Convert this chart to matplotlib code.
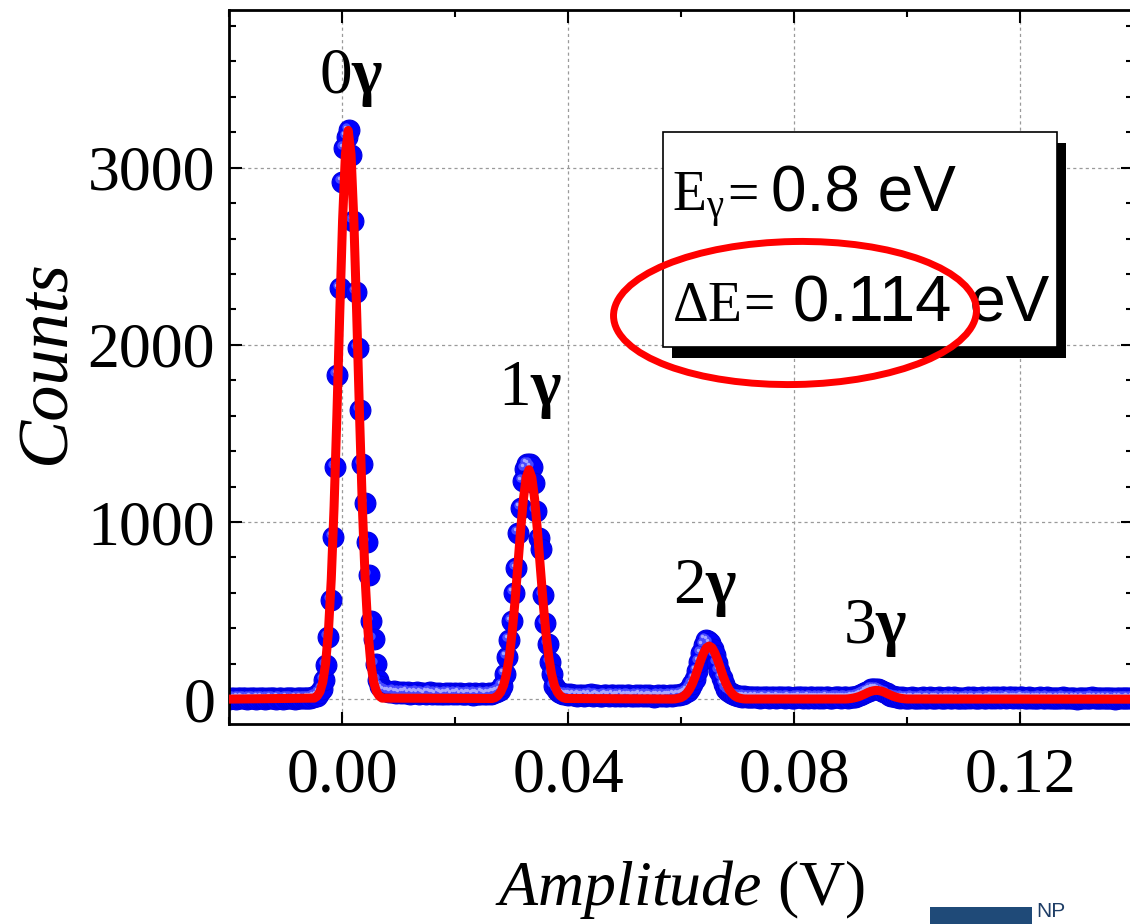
import numpy as np
import matplotlib
matplotlib.use("Agg")
import matplotlib.pyplot as plt
from matplotlib.patches import Rectangle, Ellipse
from matplotlib.ticker import MultipleLocator, FormatStrFormatter
from matplotlib.transforms import IdentityTransform, offset_copy

# ---------------------------------------------------------------------------
# Pulse-height spectrum: counts per amplitude bin (bin width 0.4 mV,
# first bin centred at -20.4 mV)
# ---------------------------------------------------------------------------
bin_start = -0.0204
bin_width = 0.0004

counts_pre0 = [6, 3, 8, 5, 2, 7, 4, 9, 5, 3, 6, 8, 4, 2, 7, 5, 9, 3, 6, 4,
               8, 5, 3, 7, 6, 2, 5, 9, 4, 6, 3, 8, 5, 7, 4, 6, 9, 8, 12, 16]
counts_peak0 = [20, 35, 60, 110, 195, 352, 561, 917, 1310, 1830, 2320, 2920,
                3109, 3174, 3212, 3070, 2700, 2300, 1980, 1630, 1330, 1110,
                890, 700, 440, 340, 200, 110, 75, 60, 50, 45]
counts_valley01 = [42, 38, 45, 36, 40, 33, 38, 35, 41, 30, 36, 34, 39, 31, 37,
                   33, 28, 35, 38, 30, 34, 29, 36, 32, 27, 34, 31, 36, 28, 33,
                   30, 35, 27, 32, 29, 34, 31, 26, 33, 30, 28, 35, 31, 29, 34,
                   32, 36, 40, 45]
counts_peak1 = [50, 75, 145, 240, 335, 440, 600, 740, 940, 1080, 1230, 1300,
                1330, 1325, 1310, 1220, 1060, 910, 850, 590, 430, 310, 210,
                145, 75, 50, 40]
counts_valley12 = [35, 30, 27, 24, 28, 22, 25, 20, 26, 23, 19, 24, 21, 27, 18,
                   22, 25, 20, 17, 23, 26, 19, 21, 24, 18, 22, 20, 25, 17, 21,
                   23, 19, 16, 22, 20, 24, 18, 21, 17, 23, 19, 15, 20, 22, 18,
                   21, 17, 19, 22, 20, 24, 21, 25, 27]
counts_peak2 = [30, 38, 48, 62, 85, 115, 160, 210, 260, 305, 335, 330, 315,
                285, 250, 205, 160, 120, 85, 60, 45, 35, 28]
counts_valley23 = [24, 20, 17, 14, 16, 12, 15, 11, 14, 10, 13, 9, 12, 15, 10,
                   8, 13, 11, 9, 14, 10, 12, 8, 11, 13, 9, 7, 12, 10, 14, 8,
                   11, 9, 13, 10, 7, 12, 9, 11, 8, 10, 13, 9, 7, 11, 10, 12, 8,
                   10, 11, 9, 12, 14]
counts_peak3 = [15, 18, 22, 28, 34, 42, 49, 55, 59, 60, 58, 54, 47, 40, 33,
                26, 20, 16, 12]
counts_post3 = [10, 8, 11, 7, 9, 6, 10, 8, 5, 9, 7, 11, 6, 8, 10, 5, 9, 7, 12,
                6, 8, 5, 10, 7, 9, 11, 6, 8, 4, 9, 7, 10, 6, 12, 8, 5, 9, 11,
                7, 6, 10, 8, 13, 9, 11, 7, 12, 10, 8, 14, 11, 9, 12, 8, 10, 13,
                7, 9, 11, 8, 6, 9, 7, 10, 5, 8, 11, 6, 9, 7, 4, 8, 6, 10, 7, 5,
                9, 6, 8, 3, 7, 5, 9, 6, 4, 8, 10, 5, 7, 6, 9, 4, 7, 5, 8, 6, 3,
                7, 5, 8, 6, 4, 7, 5, 9, 3, 6, 8, 5]

# Multi-Gaussian fit, sampled every 0.5 mV around each photon peak
fit_step = 0.0005
fit_centers = [0.0011, 0.0331, 0.0650, 0.0946]
fit_profile0 = [6, 17, 42, 97, 202, 385, 677, 1088, 1608, 2176, 2700, 3075,
                3210, 3075, 2700, 2176, 1608, 1088, 677, 385, 202, 97, 42, 17, 6]
fit_profile1 = [4, 9, 20, 41, 78, 141, 237, 372, 545, 745, 948, 1128, 1251,
                1295, 1251, 1128, 948, 745, 545, 372, 237, 141, 78, 41, 20, 9, 4]
fit_profile2 = [1, 2, 5, 9, 18, 33, 55, 86, 126, 173, 220, 261, 290, 300, 290,
                261, 220, 173, 126, 86, 55, 33, 18, 9, 5, 2, 1]
fit_profile3 = [1, 1, 2, 4, 7, 11, 16, 23, 30, 38, 44, 48, 50, 48, 44, 38, 30,
                23, 16, 11, 7, 4, 2, 1, 1]
fit_range = (-0.0215, 0.1420)

peak_names = ["0", "1", "2", "3"]
peak_label_x = [0.0017, 0.0333, 0.0643, 0.0943]
peak_label_y = [3420, 1660, 545, 319]

# ---------------------------------------------------------------------------
counts = np.array(counts_pre0 + counts_peak0 + counts_valley01 + counts_peak1
                  + counts_valley12 + counts_peak2 + counts_valley23
                  + counts_peak3 + counts_post3, dtype=float)
amplitude = bin_start + bin_width * np.arange(len(counts))

fit_x = [fit_range[0]]
fit_y = [0.0]
for c, prof in zip(fit_centers, [fit_profile0, fit_profile1, fit_profile2, fit_profile3]):
    half = (len(prof) - 1) / 2
    for k, v in enumerate(prof):
        fit_x.append(c + (k - half) * fit_step)
        fit_y.append(v)
fit_x.append(fit_range[1])
fit_y.append(0.0)

plt.rcParams.update({
    "font.family": "Liberation Serif",
    "mathtext.fontset": "custom",
    "mathtext.rm": "Liberation Serif",
    "mathtext.it": "Liberation Serif:italic",
    "mathtext.bf": "Liberation Serif:bold",
    "mathtext.sf": "Liberation Sans",
})

W, H = 1130, 924
fig = plt.figure(figsize=(W / 100, H / 100), dpi=100)
fig.patch.set_facecolor("white")
ax = fig.add_axes([229 / W, 1 - 724 / H, (1133 - 229) / W, (724 - 10) / H])

# shaded ball markers: base disc plus a soft highlight towards the upper left
ax.plot(amplitude, counts, "o", ms=15, color="#0000ff", mec="#0000e0",
        mew=0.8, zorder=2)
ax.plot(amplitude, counts, "o", ms=6, color="#4848ff", mec="none", zorder=2.1,
        transform=offset_copy(ax.transData, fig=fig, x=-3, y=3, units="dots"))
ax.plot(amplitude, counts, "o", ms=2.5, color="#a8a8ff", mec="none", zorder=2.2,
        transform=offset_copy(ax.transData, fig=fig, x=-3.5, y=3.5, units="dots"))

ax.plot(fit_x, fit_y, color="#ff0000", lw=6.5, solid_joinstyle="round",
        solid_capstyle="round", zorder=3)

ax.set_xlim(-0.02, 0.14)
ax.set_ylim(-140, 3890)
ax.xaxis.set_major_locator(MultipleLocator(0.04))
ax.xaxis.set_minor_locator(MultipleLocator(0.02))
ax.yaxis.set_major_locator(MultipleLocator(1000))
ax.yaxis.set_minor_locator(MultipleLocator(200))
ax.xaxis.set_major_formatter(FormatStrFormatter("%.2f"))
ax.yaxis.set_major_formatter(FormatStrFormatter("%d"))

ax.tick_params(which="both", direction="in", top=True, right=True, width=1.5,
               labelsize=46, colors="black")
ax.tick_params(which="major", length=9)
ax.tick_params(which="minor", length=5)
ax.tick_params(axis="x", pad=17)
ax.tick_params(axis="y", pad=10)
for s in ax.spines.values():
    s.set_linewidth(2)

ax.set_axisbelow(True)
ax.grid(True, which="major", color="#9a9a9a", lw=0.9, ls=(0, (2.5, 2.5)))

for name, lx, ly in zip(peak_names, peak_label_x, peak_label_y):
    ax.text(lx, ly, name + r"$\mathbf{\gamma}$", ha="center", va="baseline",
            fontsize=47, zorder=4)

fig.text(680 / W, 1 - 905 / H, r"$\mathit{Amplitude}$ (V)", ha="center",
         va="baseline", fontsize=46)
fig.text(47 / W, 1 - 362 / H, "Counts", rotation=90, ha="center",
         va="center", fontsize=52, style="italic")

# inset box with drop shadow
px = IdentityTransform()
fig.patches.append(Rectangle((672, H - 358), 394, 215, transform=px,
                             facecolor="black", edgecolor="none", zorder=5))
fig.patches.append(Rectangle((663, H - 347), 394, 215, transform=px,
                             facecolor="white", edgecolor="black", lw=1.2,
                             zorder=6))
box_text = dict(ha="left", va="baseline", zorder=7)
fig.text(672 / W, 1 - 211 / H, r"$\mathrm{E}_{\mathrm{\gamma}}$", fontsize=40,
         **box_text)
fig.text(727 / W, 1 - 211 / H, "=", fontsize=40, **box_text)
fig.text(771 / W, 1 - 211 / H, "0.8 eV", fontsize=46,
         family="Liberation Sans", **box_text)
fig.text(672 / W, 1 - 321 / H, r"$\Delta\mathrm{E}$", fontsize=40, **box_text)
fig.text(743 / W, 1 - 321 / H, "=", fontsize=40, **box_text)
fig.text(793 / W, 1 - 321 / H, "0.114 eV", fontsize=47,
         family="Liberation Sans", **box_text)
fig.patches.append(Ellipse((795, H - 313), 363, 143, angle=1, transform=px,
                           facecolor="none", edgecolor="#ff0000", lw=5,
                           zorder=8))

# logo fragment at the lower right corner
fig.patches.append(Rectangle((930, 0), 102, H - 907, transform=px,
                             facecolor="#1f4a78", edgecolor="none", zorder=5))
fig.text(1036 / W, 1 - 902 / H, "NP", ha="left", va="top", fontsize=15,
         family="Liberation Sans", color="#1e3d66", zorder=5)

fig.savefig("out.png", dpi=100, facecolor="white")
